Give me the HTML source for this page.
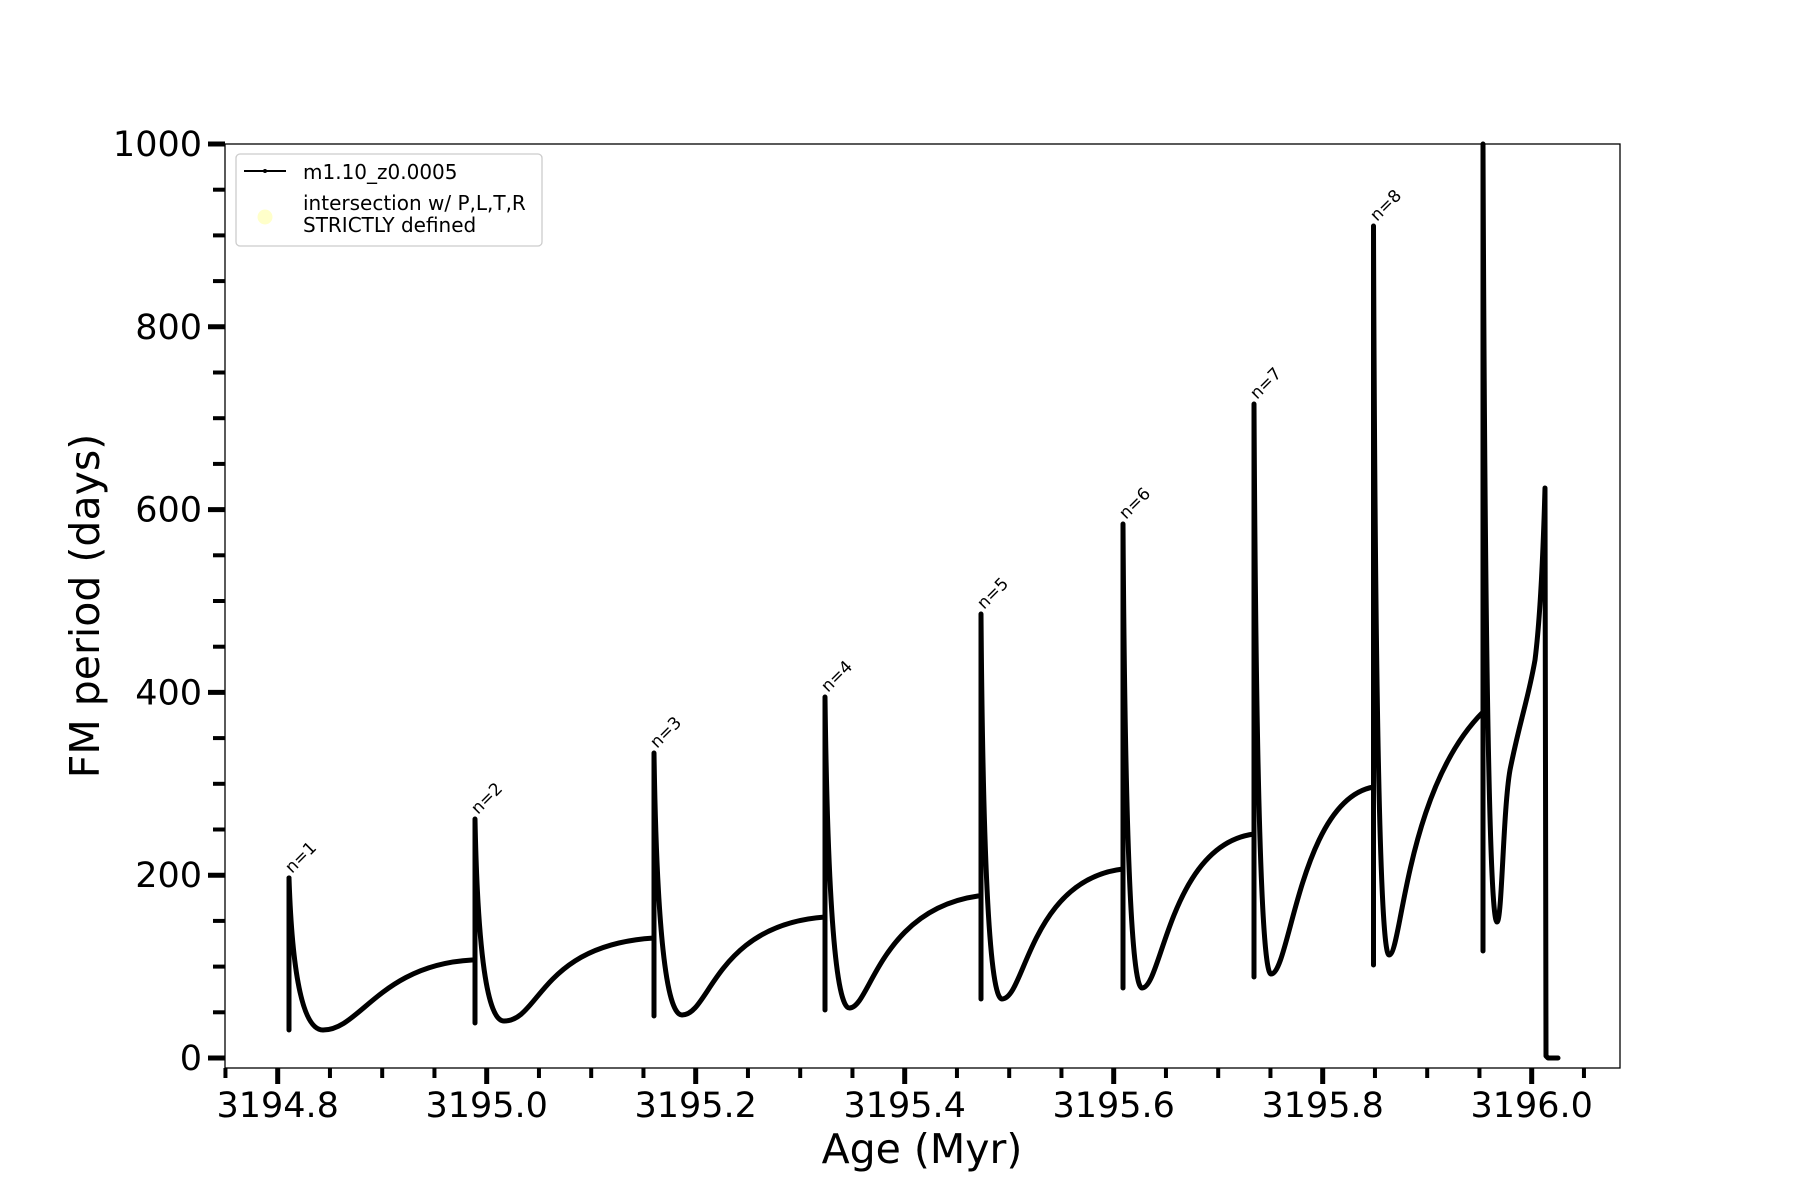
<!DOCTYPE html>
<html><head><meta charset="utf-8"><style>
html,body{margin:0;padding:0;background:#fff;}
svg{display:block;font-family:"DejaVu Sans","Liberation Sans",sans-serif;}
</style></head><body>
<svg width="1800" height="1200" viewBox="0 0 1800 1200" xmlns="http://www.w3.org/2000/svg">
<rect width="1800" height="1200" fill="#fff"/>
<g id="ticks" stroke="#000"></g>
<g fill="none" stroke="#000" stroke-width="5" stroke-linejoin="round" stroke-linecap="round">
<path d="M289,985 L289,1030 M289,878 L289,1030"/>
<path d="M289,878 Q294,1030 323,1030 C360,1030 380,965 472,960 L475,960"/>
<path d="M475,1023 L475,819 Q479,1021 504,1021 C540,1021 540,945 654,938"/>
<path d="M654,1016 L654,753 Q658,1015 682,1015 C710,1015 715,925 825,917"/>
<path d="M825,1010 L825,697 Q829,1008 849.5,1008 C870,1008 880,910 978,896 L981,896"/>
<path d="M981,999 L981,614 Q984,999 1002,999 C1025,999 1030,880 1123,869"/>
<path d="M1123,988 L1123,524 Q1126,988 1142,988 C1162,988 1170,845 1254,834"/>
<path d="M1254,977 L1254,404 Q1257,974 1271,974 C1290,974 1300,800 1373.5,787"/>
<path d="M1373.5,965 L1373.5,226 Q1376,955 1389,955 C1402,955 1405,790 1483,712"/>
<path d="M1483,951 L1483,144 Q1486,922 1497,922 C1502,922 1503,810 1510,770 C1520,720 1528,700 1535,660 C1540,620 1543,560 1545,488 L1546,1056 L1548,1058 L1558,1058"/>
</g>
<g font-size="17" fill="#000">
<text transform="translate(292,874) rotate(-45)">n=1</text>
<text transform="translate(478,815) rotate(-45)">n=2</text>
<text transform="translate(657,749) rotate(-45)">n=3</text>
<text transform="translate(828,693) rotate(-45)">n=4</text>
<text transform="translate(984,610) rotate(-45)">n=5</text>
<text transform="translate(1126,520) rotate(-45)">n=6</text>
<text transform="translate(1257,400) rotate(-45)">n=7</text>
<text transform="translate(1377,222) rotate(-45)">n=8</text>
</g>
<rect x="225" y="144" width="1395" height="924" fill="none" stroke="#000" stroke-width="1.3"/>
<g font-size="35" fill="#000" text-anchor="end" id="ylab"></g>
<g font-size="35" fill="#000" text-anchor="middle" id="xlab"></g>
<text x="922" y="1163" font-size="41" text-anchor="middle">Age (Myr)</text>
<text transform="translate(99,606) rotate(-90)" font-size="41" text-anchor="middle">FM period (days)</text>
<rect x="236" y="154" width="306" height="92" rx="4" fill="#fff" fill-opacity="0.8" stroke="#ccc" stroke-width="1.3"/>
<line x1="244" y1="171" x2="286" y2="171" stroke="#000" stroke-width="2"/>
<circle cx="265" cy="171" r="2" fill="#000"/>
<text x="303" y="179" font-size="20">m1.10_z0.0005</text>
<circle cx="265" cy="217" r="7.5" fill="#ffff66" fill-opacity="0.35"/>
<text x="303" y="210" font-size="20">intersection w/ P,L,T,R</text>
<text x="303" y="232" font-size="20">STRICTLY defined</text>
<script>
(function(){
var ns="http://www.w3.org/2000/svg",t=document.getElementById('ticks'),yl=document.getElementById('ylab'),xl=document.getElementById('xlab');
function L(x1,y1,x2,y2,w){var l=document.createElementNS(ns,'line');l.setAttribute('x1',x1);l.setAttribute('y1',y1);l.setAttribute('x2',x2);l.setAttribute('y2',y2);l.setAttribute('stroke-width',w);t.appendChild(l);}
function T(g,x,y,s){var e=document.createElementNS(ns,'text');e.setAttribute('x',x);e.setAttribute('y',y);e.textContent=s;g.appendChild(e);}
for(var v=0;v<=1000;v+=50){var y=1058-v*0.914;if(v%200==0){L(208,y,225,y,5);T(yl,202,y+12,String(v));}else L(213,y,225,y,4);}
for(var n=-1;n<=25;n++){var x=277.7+n*52.25;if(n>=0&&n%4==0){L(x,1068,x,1084,5);T(xl,x,1117,(3194.8+n*0.05).toFixed(1));}else L(x,1068,x,1078,4);}
})();
</script>
</svg>
</body></html>
